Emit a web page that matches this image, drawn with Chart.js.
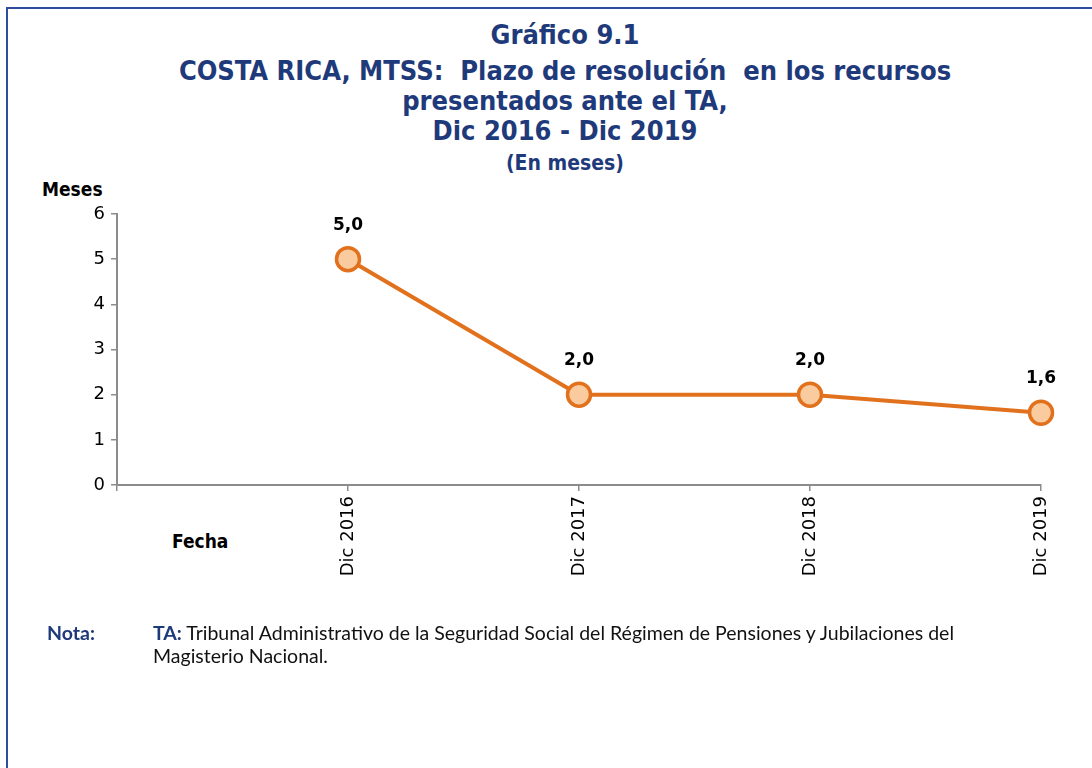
<!DOCTYPE html>
<html>
<head>
<meta charset="utf-8">
<script src="https://cdn.jsdelivr.net/npm/chart.js@4/dist/chart.umd.min.js"></script>
<style>
  html, body { margin: 0; padding: 0; background: #fff; }
  .frame { position: relative; width: 1092px; height: 768px; overflow: hidden; }
  .frame-edge { position: absolute; left: 6px; top: 7px; right: -10px; bottom: -10px;
    border-top: 2px solid #2f4d9c; border-left: 2px solid #2f4d9c; }
  #chart { position: absolute; left: 0; top: 0; }
  .title { position: absolute; left: 0; width: 1130px; top: 20px; text-align: center;
    color: #1f3a7a; font-family: "DejaVu Sans Condensed", sans-serif;
    font-weight: bold; font-size: 27px; line-height: 30px; }
  .title .head { margin-bottom: 6px; }
  .title .sub { font-size: 21px; line-height: 34px; }
  .axis-name { position: absolute; font-family: "DejaVu Sans Condensed", "DejaVu Sans", sans-serif;
    font-weight: bold; font-size: 19px; color: #000; }
  .note { position: absolute; top: 621px; font-family: Lato, sans-serif;
    font-size: 19.5px; line-height: 23px; color: #111; }
  .note b { color: #1f3a7a; }
</style>
</head>
<body>
<div class="frame">
  <div class="frame-edge"></div>
  <div class="title">
    <div class="head">Gráfico 9.1</div>
    <div>COSTA RICA, MTSS:&nbsp; Plazo de resolución&nbsp; en los recursos</div>
    <div>presentados ante el TA,</div>
    <div>Dic 2016 - Dic 2019</div>
    <div class="sub">(En meses)</div>
  </div>
  <div class="axis-name" style="left:42px; top:178px;">Meses</div>
  <div class="axis-name" style="left:172px; top:530px;">Fecha</div>
  <canvas id="chart" width="1092" height="768"></canvas>
  <div class="note" style="left:47px;"><b>Nota:</b></div>
  <div class="note" style="left:153px; width:830px;"><b>TA:</b> Tribunal Administrativo de la Seguridad Social del Régimen de Pensiones y Jubilaciones del Magisterio Nacional.</div>
</div>
<script>
// first slot is a blank category so the series starts one step right of the axis
const fechas = ['', 'Dic 2016', 'Dic 2017', 'Dic 2018', 'Dic 2019'];
const plazoMeses = [null, 5.0, 2.0, 2.0, 1.6];
const yTicks = [0, 1, 2, 3, 4, 5, 6];

const naranja = '#e2711d';
const relleno = '#facb9f';
const gris = '#8c8c8c';

// value labels above each point, decimal comma
const etiquetas = {
  id: 'etiquetas',
  afterDatasetsDraw(chart) {
    const ctx = chart.ctx;
    const meta = chart.getDatasetMeta(0);
    ctx.save();
    ctx.font = 'bold 17px "DejaVu Sans"';
    ctx.fillStyle = '#000';
    ctx.textAlign = 'center';
    ctx.textBaseline = 'middle';
    meta.data.forEach(function (pt, i) {
      const v = plazoMeses[i];
      if (v === null) return;
      ctx.fillText(v.toFixed(1).replace('.', ','), pt.x, pt.y - 34);
    });
    ctx.restore();
  }
};

new Chart(document.getElementById('chart'), {
  type: 'line',
  data: {
    labels: fechas,
    datasets: [{
      data: plazoMeses,
      borderColor: naranja,
      borderWidth: 4,
      pointRadius: 11.5,
      pointBorderWidth: 3.5,
      pointBackgroundColor: relleno,
      pointBorderColor: naranja,
      tension: 0
    }]
  },
  options: {
    responsive: false,
    devicePixelRatio: 1,
    animation: false,
    layout: { padding: { left: 70, top: 214, right: 51, bottom: 0 } },
    scales: {
      x: {
        type: 'category',
        offset: false,
        afterFit(s) { s.height = 283; },
        grid: { drawOnChartArea: false, drawTicks: true, tickLength: 6, color: gris, lineWidth: 1.5 },
        border: { color: gris, width: 2 },
        ticks: {
          autoSkip: false, minRotation: 90, maxRotation: 90, padding: 5,
          color: '#000', font: { family: 'DejaVu Sans', size: 18 }
        }
      },
      y: {
        min: 0, max: 6,
        afterFit(s) { s.width = 47; },
        afterBuildTicks(s) { s.ticks = yTicks.map(function (v) { return { value: v }; }); },
        grid: { drawOnChartArea: false, drawTicks: true, tickLength: 6, color: gris, lineWidth: 1.5 },
        border: { color: gris, width: 2 },
        ticks: { padding: 6, color: '#000', font: { family: 'DejaVu Sans', size: 18 } }
      }
    },
    plugins: { legend: { display: false }, tooltip: { enabled: false } }
  },
  plugins: [etiquetas]
});
</script>
</body>
</html>
